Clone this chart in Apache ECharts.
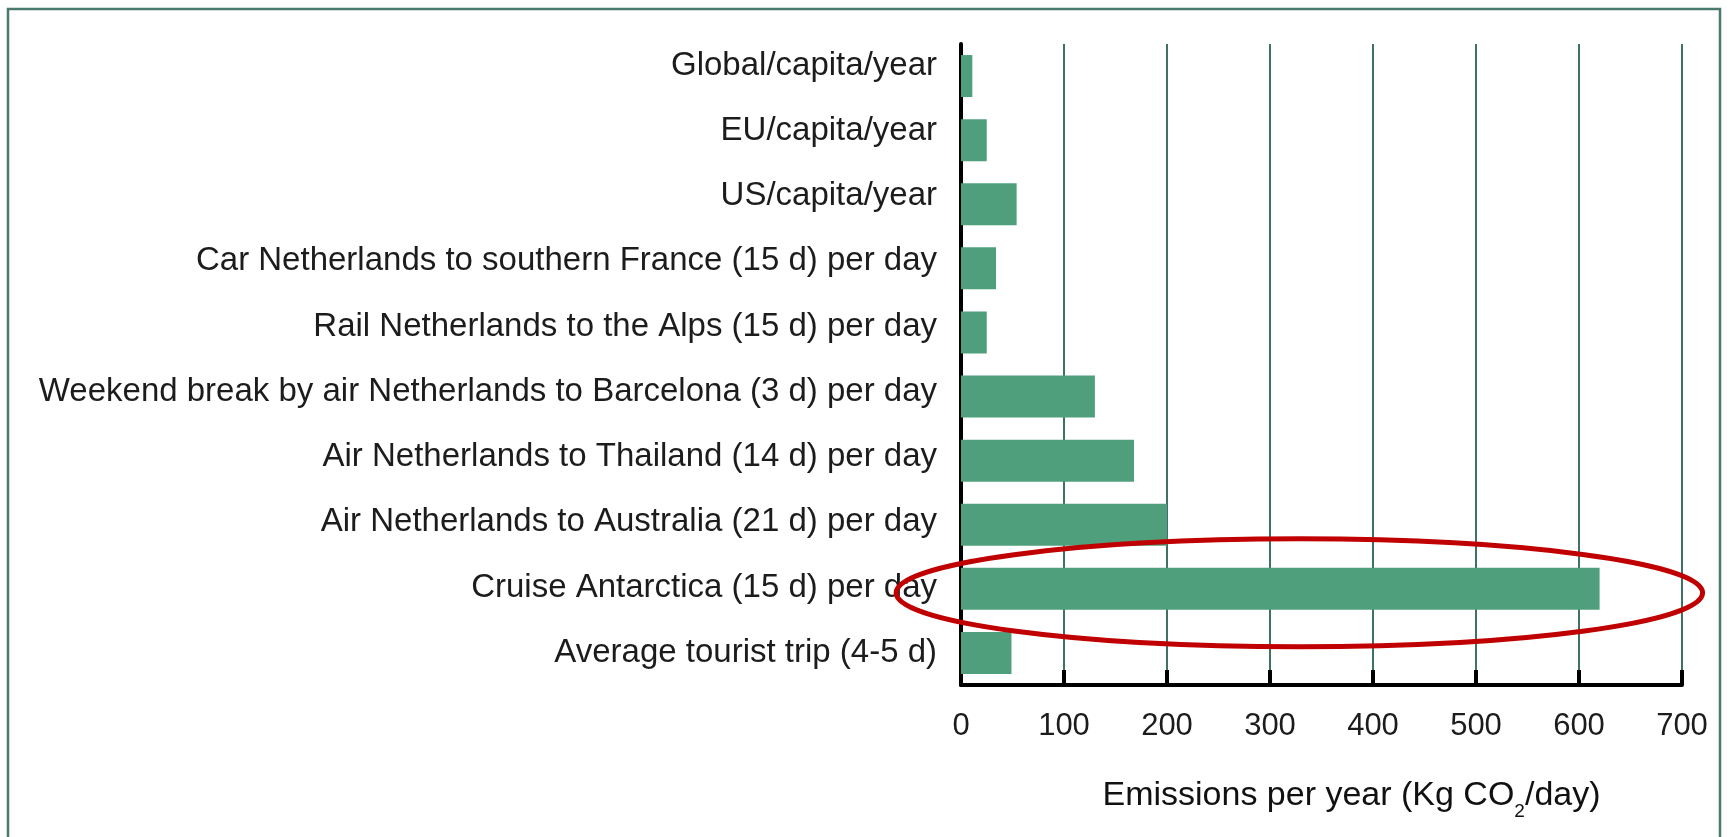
<!DOCTYPE html>
<html>
<head>
<meta charset="utf-8">
<script src="https://cdn.jsdelivr.net/npm/echarts@6/dist/echarts.min.js"></script>
<style>
html,body{margin:0;padding:0;background:#fff;}
#chart{width:1729px;height:837px;}
</style>
</head>
<body>
<div id="chart"></div>
<script>
const categories = [
  'Global/capita/year',
  'EU/capita/year',
  'US/capita/year',
  'Car Netherlands to southern France (15 d) per day',
  'Rail Netherlands to the Alps (15 d) per day',
  'Weekend break by air Netherlands to Barcelona (3 d) per day',
  'Air Netherlands to Thailand (14 d) per day',
  'Air Netherlands to Australia (21 d) per day',
  'Cruise Antarctica (15 d) per day',
  'Average tourist trip (4-5 d)'
];
const emissions = [11, 25, 54, 34, 25, 130, 168, 200, 620, 49];
const xTicks = [0, 100, 200, 300, 400, 500, 600, 700];
const axisTitle = 'Emissions per year (Kg CO{sub|2}/day)';
const highlighted = 'Cruise Antarctica (15 d) per day';

const FONT = '"Liberation Sans", Arial, Helvetica, sans-serif';
// labels in the original drift slightly upward relative to the bars toward the top
const labelRich = {};
categories.forEach(function (c, i) {
  const lift = (categories.length - 1 - i) * 1.15;
  labelRich['l' + i] = { fontSize: 33, color: '#1c1c1c', fontFamily: FONT, padding: [0, 0, Math.round(lift * 2), 0] };
});

const chart = echarts.init(document.getElementById('chart'));
const option = {
  backgroundColor: '#ffffff',
  animation: false,
  grid: { left: 961, right: 47, top: 44, bottom: 152, containLabel: false },
  xAxis: {
    type: 'value',
    min: xTicks[0],
    max: xTicks[xTicks.length - 1],
    interval: 100,
    axisLine: { show: true, lineStyle: { color: '#000', width: 4 } },
    axisTick: { show: true, inside: true, length: 15, lineStyle: { color: '#000', width: 4 } },
    splitLine: { show: true, lineStyle: { color: '#3f7266', width: 2 } },
    axisLabel: { fontSize: 31, color: '#1c1c1c', margin: 26, fontFamily: FONT },
    name: axisTitle,
    nameLocation: 'middle',
    nameGap: 94,
    nameTextStyle: {
      fontSize: 34,
      color: '#111',
      fontFamily: FONT,
      padding: [0, 0, 0, 60],
      rich: {
        sub: { fontSize: 19, verticalAlign: 'bottom', lineHeight: 19, padding: [0, 0, -8, 0],
               fontFamily: FONT, color: '#111' }
      }
    }
  },
  yAxis: {
    type: 'category',
    inverse: true,
    data: categories,
    axisLine: { show: true, lineStyle: { color: '#000', width: 4 } },
    axisTick: { show: false },
    splitLine: { show: false },
    axisLabel: {
      fontSize: 33, color: '#1c1c1c', margin: 24, fontFamily: FONT,
      formatter: function (value, index) { return '{l' + index + '|' + value + '}'; },
      rich: labelRich
    }
  },
  series: [{
    type: 'bar',
    data: emissions,
    barWidth: 42,
    itemStyle: { color: '#4f9f7c' },
    z: 3
  }]
};
chart.setOption(option);

// Annotation: red ellipse around the highlighted bar, positioned through the axes
const idx = categories.indexOf(highlighted);
const pLeft = chart.convertToPixel({ gridIndex: 0 }, [-63, idx]);
const pRight = chart.convertToPixel({ gridIndex: 0 }, [720, idx]);
chart.setOption({
  graphic: [
    {
      type: 'rect',
      shape: { x: 8, y: 9, width: 1712, height: 840 },
      style: { fill: 'none', stroke: '#4a7a6d', lineWidth: 2.5 },
      silent: true, z: 0
    },
    {
      type: 'ellipse',
      shape: { cx: (pLeft[0] + pRight[0]) / 2, cy: pLeft[1] + 4, rx: (pRight[0] - pLeft[0]) / 2, ry: 54 },
      style: { fill: 'none', stroke: '#c00000', lineWidth: 5 },
      silent: true, z: 100
    }
  ]
});
</script>
</body>
</html>
